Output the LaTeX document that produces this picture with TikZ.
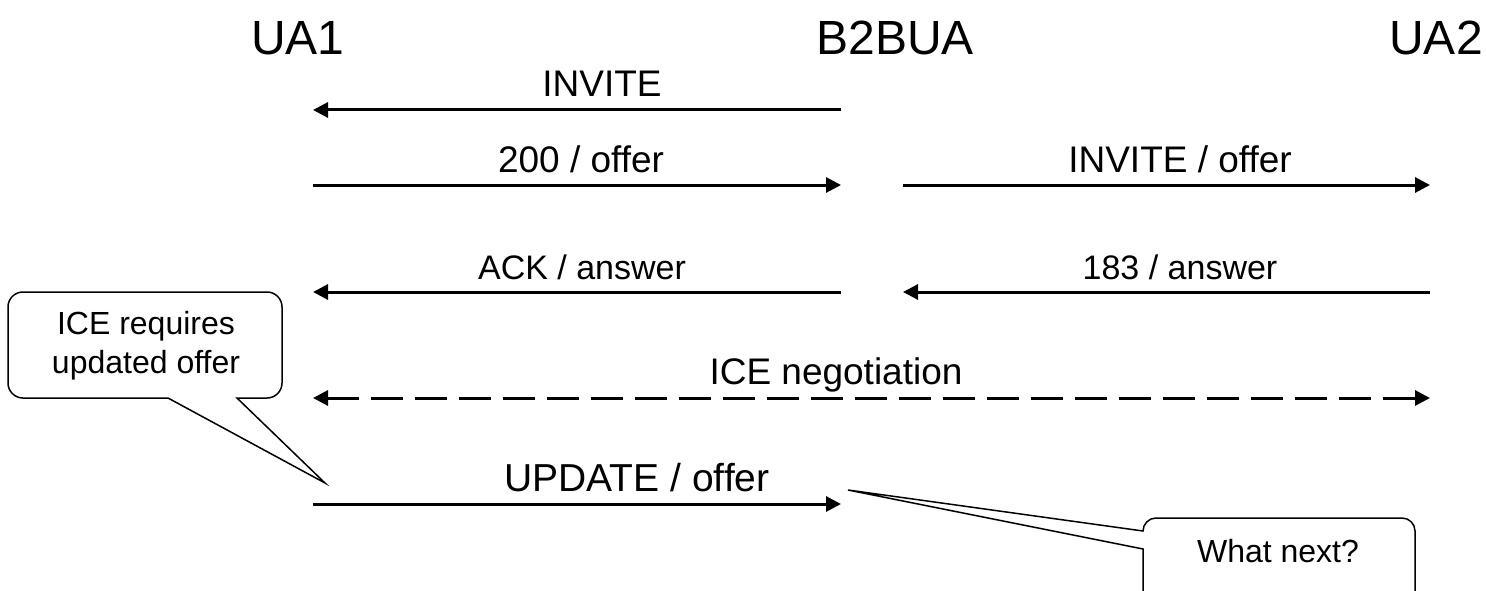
\documentclass[tikz,border=0pt]{standalone}
\usepackage{fontspec}
\setmainfont{Liberation Sans}
\usetikzlibrary{arrows.meta}
\tikzset{
  msg/.style={line width=3pt,-{Triangle[length=15pt,width=15pt]}},
  dmsg/.style={line width=3pt,{Triangle[length=15pt,width=15pt]}-{Triangle[length=15pt,width=15pt]},dash pattern=on 32pt off 12pt},
  lbl/.style={anchor=base,inner sep=0pt,font=\fontsize{37}{44}\selectfont},
  hdr/.style={anchor=base,inner sep=0pt,font=\fontsize{48}{56}\selectfont},
  ctext/.style={align=center,inner sep=0pt,font=\fontsize{32}{39}\selectfont},
  callout/.style={line width=1.5pt,fill=white}
}
\begin{document}
\begin{tikzpicture}[x=1pt,y=-1pt]
\useasboundingbox (0,0) rectangle (1487,591);
% headers
\node[hdr] (ua1) at (298,55) {UA1};
\node[hdr] (b2bua) at (895,55) {B2BUA};
\node[hdr] (ua2) at (1436,55) {UA2};
% endpoints
\coordinate (r1L) at (313,110); \coordinate (r1M) at (841,110);
\coordinate (r2L) at (313,185); \coordinate (r2M) at (841,185);
\coordinate (r2N) at (903,185); \coordinate (r2R) at (1430,185);
\coordinate (r3L) at (313,292); \coordinate (r3M) at (841,292);
\coordinate (r3N) at (903,292); \coordinate (r3R) at (1430,292);
\coordinate (r4L) at (313,398); \coordinate (r4R) at (1430,398);
\coordinate (r5L) at (313,504); \coordinate (r5M) at (841,504);
% messages
\draw[msg] (r1M) -- (r1L);
\node[lbl] (l1) at (602,97) {INVITE};
\draw[msg] (r2L) -- (r2M);
\node[lbl] (l2) at (581,172) {200 / offer};
\draw[msg] (r2N) -- (r2R);
\node[lbl] (l3) at (1180,172) {INVITE / offer};
\draw[msg] (r3M) -- (r3L);
\node[lbl,font=\fontsize{34}{40}\selectfont] (l4) at (582,279) {ACK / answer};
\draw[msg] (r3R) -- (r3N);
\node[lbl,font=\fontsize{34}{40}\selectfont] (l5) at (1180,279) {183 / answer};
\draw[dmsg] (r4L) -- (r4R);
\node[lbl] (l6) at (836,384) {ICE negotiation};
\draw[msg] (r5L) -- (r5M);
\node[lbl,font=\fontsize{39}{46}\selectfont] (l7) at (637,491) {UPDATE / offer};
% callout 1
\coordinate (t1) at (325,483);
\draw[callout] (168,398) [rounded corners=15pt] -- (8,398) -- (8,292) -- (282,292) -- (282,398) [sharp corners] -- (237,398) -- (t1) -- cycle;
\node[ctext] (c1) at (146,346) {ICE requires\\updated offer};
% callout 2
\coordinate (t2) at (848,490);
\draw[callout] (1143,549) [rounded corners=13pt] -- (1143,630) -- (1415,630) -- (1415,518) -- (1143,518) [sharp corners] -- (1143,531) -- (t2) -- cycle;
\node[ctext,anchor=base] (c2) at (1278,562) {What next?};
\end{tikzpicture}
\end{document}
